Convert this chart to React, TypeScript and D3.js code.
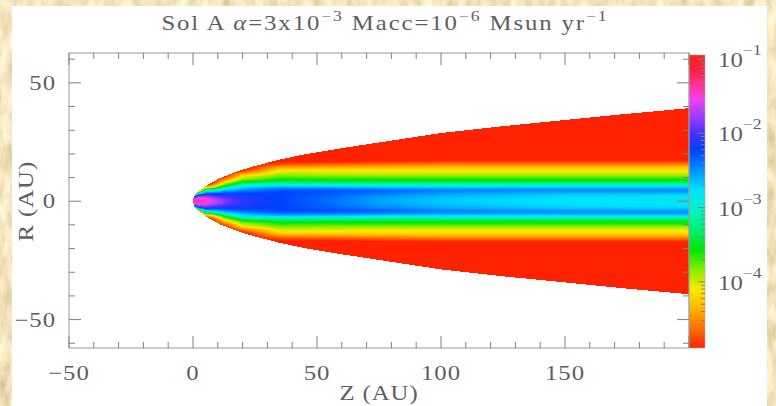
import React, { useMemo } from "react";
import * as d3 from "d3";

const W = 776;
const H = 406;

// Plot frame and colour bar placement
const FRAME = { left: 69, right: 689, top: 53, bottom: 348 };
const CBAR = { left: 689, right: 705, top: 55, bottom: 348 };

// Axis ranges (AU) and colour-bar range (log10)
const zDomain = [-50, 200];
const rDomain = [-62, 62.6];
const logDomain = [-4.89, -0.946];

// Tick values
const xTickLabels = [-50, 0, 50, 100, 150];
const xMajorTicks = [-50, 0, 50, 100, 150, 200];
const xMinorTicks = [-40, -30, -20, -10, 10, 20, 30, 40, 60, 70, 80, 90, 110, 120, 130, 140, 160, 170, 180, 190];
const yTickLabels = [-50, 0, 50];
const yMinorTicks = [-60, -40, -30, -20, -10, 10, 20, 30, 40, 60];
const cbarExponents = [-1, -2, -3, -4];

// Outer boundary of the flow: |R| (AU) as a function of Z (AU)
const edgeZ = [0, 0.25, 1, 2, 4, 7, 11, 17, 24, 35, 45, 60, 75, 100, 125, 150, 175, 200];
const edgeR = [0, 1.6, 3, 4.1, 5.6, 7.6, 9.8, 12.3, 14.6, 17.6, 19.8, 22.4, 24.8, 28.8, 31.7, 34.3, 36.9, 39.3];

// log10 of the plotted quantity: one row per Z, one column per |R|
const profileZ = [0, 2, 5, 8, 13, 20, 35, 55, 75, 100, 150, 200];
const profileR = [0, 1, 2, 3, 4, 5, 6, 7, 8, 9, 10, 11, 12, 13, 14, 15, 16, 17, 18];
const logField = [
  [-1.3, -1.6, -2.5, -3.6, -4.6, -5, -5, -5, -5, -5, -5, -5, -5, -5, -5, -5, -5, -5, -5],
  [-1.35, -1.45, -1.8, -2.6, -4.2, -5, -5, -5, -5, -5, -5, -5, -5, -5, -5, -5, -5, -5, -5],
  [-1.45, -1.52, -1.75, -2.15, -2.75, -3.5, -4.4, -5, -5, -5, -5, -5, -5, -5, -5, -5, -5, -5, -5],
  [-1.6, -1.68, -1.9, -2.2, -2.65, -3.3, -4.05, -4.6, -4.9, -5, -5, -5, -5, -5, -5, -5, -5, -5, -5],
  [-1.85, -1.9, -2.05, -2.2, -2.45, -2.78, -3.3, -3.75, -4.1, -4.45, -4.75, -4.95, -5, -5, -5, -5, -5, -5, -5],
  [-2.1, -2.11, -2.15, -2.2, -2.33, -2.55, -2.75, -3.1, -3.5, -3.8, -4.0, -4.2, -4.6, -4.85, -5, -5, -5, -5, -5],
  [-2.22, -2.22, -2.22, -2.22, -2.24, -2.35, -2.6, -2.95, -3.3, -3.56, -3.7, -3.85, -4.0, -4.1, -4.35, -4.6, -4.8, -4.95, -5],
  [-2.38, -2.37, -2.35, -2.31, -2.27, -2.35, -2.65, -3.0, -3.35, -3.56, -3.72, -3.88, -4.02, -4.12, -4.3, -4.55, -4.78, -4.95, -5],
  [-2.55, -2.54, -2.5, -2.43, -2.33, -2.4, -2.72, -3.05, -3.38, -3.56, -3.72, -3.9, -4.05, -4.13, -4.28, -4.5, -4.72, -4.9, -5],
  [-2.68, -2.67, -2.63, -2.56, -2.45, -2.47, -2.74, -3.05, -3.4, -3.56, -3.72, -3.9, -4.05, -4.12, -4.25, -4.45, -4.65, -4.85, -5],
  [-2.78, -2.78, -2.74, -2.67, -2.52, -2.5, -2.73, -3.05, -3.4, -3.56, -3.72, -3.9, -4.05, -4.12, -4.25, -4.45, -4.65, -4.85, -5],
  [-2.82, -2.82, -2.78, -2.7, -2.53, -2.5, -2.72, -3.05, -3.4, -3.56, -3.72, -3.9, -4.05, -4.12, -4.25, -4.45, -4.65, -4.85, -5],
];

// Colour table (log10 value -> colour), a full hue cycle from red to red
const colorLog = [-4.89, -4.65, -4.38, -4.11, -3.84, -3.57, -3.3, -3.03, -2.76, -2.49, -2.22, -2.0, -1.78, -1.55, -1.33, -1.15, -0.946];
const colorHex = ["#ff2200", "#ff6a00", "#ffae00", "#ffe800", "#88ee00", "#00e600", "#00f070", "#00f5c8", "#00e0ff", "#0090ff", "#0040ff", "#4a30ff", "#9840ff", "#f040f0", "#ff3090", "#ff2040", "#ff2020"];

const FONT = "'Liberation Serif', 'Times New Roman', serif";
const INK = "#5e5e5e";
const TICK = "#808080";
const STRETCH = 1.18;

type LabelProps = {
  x: number;
  y: number;
  anchor?: "start" | "middle" | "end";
  size?: number;
  spacing?: number;
  rotate?: number;
  children: React.ReactNode;
};

// Text drawn with a slight horizontal stretch, in the wide plotting-package style
function Label({ x, y, anchor = "start", size = 21, spacing = 0, rotate = 0, children }: LabelProps) {
  return (
    <text
      transform={`translate(${x},${y}) rotate(${rotate}) scale(${STRETCH},1)`}
      textAnchor={anchor}
      fontFamily={FONT}
      fontSize={size}
      letterSpacing={spacing}
      fill={INK}
    >
      {children}
    </text>
  );
}

export default function App() {
  const x = d3.scaleLinear().domain(zDomain).range([FRAME.left, FRAME.right]);
  const y = d3.scaleLinear().domain(rDomain).range([FRAME.bottom, FRAME.top]);
  const cy = d3.scaleLinear().domain(logDomain).range([CBAR.bottom, CBAR.top]);
  const color = d3
    .scaleLinear<string>()
    .domain(colorLog)
    .range(colorHex)
    .interpolate(d3.interpolateRgb)
    .clamp(true);

  const diskImage = useMemo(() => {
    const w = FRAME.right - FRAME.left;
    const h = FRAME.bottom - FRAME.top;
    const canvas = document.createElement("canvas");
    canvas.width = w;
    canvas.height = h;
    const ctx = canvas.getContext("2d");
    if (!ctx) return "";
    const img = ctx.createImageData(w, h);
    const edge = d3.scaleLinear().domain(edgeZ).range(edgeR).clamp(true);
    const rowAt = d3.scaleLinear().domain(profileZ).range(d3.range(profileZ.length)).clamp(true);
    const colAt = d3.scaleLinear().domain(profileR).range(d3.range(profileR.length)).clamp(true);
    // colour lookup table
    const N = 1024;
    const lut = d3.range(N).map((k) => {
      const v = logDomain[0] + ((logDomain[1] - logDomain[0]) * k) / (N - 1);
      return d3.rgb(color(v));
    });
    for (let j = 0; j < h; j++) {
      const r = Math.abs(y.invert(FRAME.top + j + 0.5));
      const fc = colAt(r);
      const c0 = Math.min(Math.floor(fc), profileR.length - 2);
      const tc = fc - c0;
      for (let i = 0; i < w; i++) {
        const z = x.invert(FRAME.left + i + 0.5);
        if (z < 0 || r > edge(z)) continue;
        const fr = rowAt(z);
        const r0 = Math.min(Math.floor(fr), profileZ.length - 2);
        const tr = fr - r0;
        const a = logField[r0][c0] * (1 - tc) + logField[r0][c0 + 1] * tc;
        const b = logField[r0 + 1][c0] * (1 - tc) + logField[r0 + 1][c0 + 1] * tc;
        const v = a * (1 - tr) + b * tr;
        let k = Math.round(((v - logDomain[0]) / (logDomain[1] - logDomain[0])) * (N - 1));
        k = Math.max(0, Math.min(N - 1, k));
        const col = lut[k];
        const p = (j * w + i) * 4;
        img.data[p] = col.r;
        img.data[p + 1] = col.g;
        img.data[p + 2] = col.b;
        img.data[p + 3] = 255;
      }
    }
    ctx.putImageData(img, 0, 0);
    return canvas.toDataURL();
  }, []);

  const cbarRows = d3.range(CBAR.top, CBAR.bottom, 1);
  const cbarMinor: number[] = [];
  for (let d = -5; d <= -1; d++) {
    for (let m = 2; m <= 9; m++) {
      const v = d + Math.log10(m);
      if (v > logDomain[0] && v < logDomain[1]) cbarMinor.push(v);
    }
  }

  const minus = (t: number) => (t < 0 ? `−${-t}` : `${t}`);

  return (
    <svg
      width={W}
      height={H}
      viewBox={`0 0 ${W} ${H}`}
      style={{ position: "absolute", left: 0, top: 0, display: "block" }}
    >
      <defs>
        <filter id="paper" x="0" y="0" width="100%" height="100%">
          <feTurbulence type="fractalNoise" baseFrequency="0.09 0.035" numOctaves={3} seed={7} result="n" />
          <feColorMatrix
            in="n"
            type="matrix"
            values="0.6 0 0 0 0.6  0.6 0 0 0 0.48  0.6 0 0 0 0.22  0 0 0 0 1"
          />
        </filter>
      </defs>
      <rect x={0} y={0} width={W} height={H} fill="#e6c98e" />
      <rect x={0} y={0} width={W} height={H} filter="url(#paper)" />
      <rect x={12} y={6} width={755} height={H - 6} fill="#ffffff" />

      {/* title */}
      <Label x={385} y={30} anchor="middle" spacing={1.6}>
        <tspan>Sol A </tspan>
        <tspan fontStyle="italic">α</tspan>
        <tspan>=3x10</tspan>
        <tspan dy={-9} fontSize={15}>−3</tspan>
        <tspan dy={9}> Macc=10</tspan>
        <tspan dy={-9} fontSize={15}>−6</tspan>
        <tspan dy={9}> Msun yr</tspan>
        <tspan dy={-9} fontSize={15}>−1</tspan>
      </Label>

      {/* flow map */}
      {diskImage && (
        <image
          href={diskImage}
          x={FRAME.left}
          y={FRAME.top}
          width={FRAME.right - FRAME.left}
          height={FRAME.bottom - FRAME.top}
          preserveAspectRatio="none"
        />
      )}

      {/* colour bar */}
      <g shapeRendering="crispEdges">
        {cbarRows.map((py) => (
          <rect key={py} x={CBAR.left} y={py} width={CBAR.right - CBAR.left} height={1} fill={color(cy.invert(py + 0.5))} />
        ))}
      </g>
      <rect
        x={CBAR.left}
        y={CBAR.top}
        width={CBAR.right - CBAR.left}
        height={CBAR.bottom - CBAR.top}
        fill="none"
        stroke="#aaa"
        strokeWidth={0.6}
      />
      <g stroke={TICK} strokeWidth={1}>
        {cbarExponents.map((e) => (
          <line key={e} x1={CBAR.right} x2={CBAR.right - 7} y1={cy(e)} y2={cy(e)} />
        ))}
        {cbarMinor.map((v) => (
          <line key={v} x1={CBAR.right} x2={CBAR.right - 4} y1={cy(v)} y2={cy(v)} />
        ))}
      </g>
      {cbarExponents.map((e) => (
        <Label key={e} x={718} y={cy(e) + 8}>
          <tspan>10</tspan>
          <tspan dy={-12} fontSize={15}>{minus(e)}</tspan>
        </Label>
      ))}

      {/* frame and ticks */}
      <rect
        x={FRAME.left}
        y={FRAME.top}
        width={FRAME.right - FRAME.left}
        height={FRAME.bottom - FRAME.top}
        fill="none"
        stroke="#999"
        strokeWidth={1}
      />
      <g stroke={TICK} strokeWidth={1}>
        {xMajorTicks.map((t) => (
          <g key={`xm${t}`}>
            <line x1={x(t)} x2={x(t)} y1={FRAME.bottom} y2={FRAME.bottom - 12} />
            <line x1={x(t)} x2={x(t)} y1={FRAME.top} y2={FRAME.top + 12} />
          </g>
        ))}
        {xMinorTicks.map((t) => (
          <g key={`xn${t}`}>
            <line x1={x(t)} x2={x(t)} y1={FRAME.bottom} y2={FRAME.bottom - 6} />
            <line x1={x(t)} x2={x(t)} y1={FRAME.top} y2={FRAME.top + 6} />
          </g>
        ))}
        {yTickLabels.map((t) => (
          <g key={`ym${t}`}>
            <line x1={FRAME.left} x2={FRAME.left + 12} y1={y(t)} y2={y(t)} />
            <line x1={FRAME.right} x2={FRAME.right - 12} y1={y(t)} y2={y(t)} />
          </g>
        ))}
        {yMinorTicks.map((t) => (
          <g key={`yn${t}`}>
            <line x1={FRAME.left} x2={FRAME.left + 6} y1={y(t)} y2={y(t)} />
            <line x1={FRAME.right} x2={FRAME.right - 6} y1={y(t)} y2={y(t)} />
          </g>
        ))}
      </g>

      {/* tick labels */}
      {xTickLabels.map((t) => (
        <Label key={`xl${t}`} x={x(t)} y={380} anchor="middle" spacing={0.8}>
          {minus(t)}
        </Label>
      ))}
      {yTickLabels.map((t) => (
        <Label key={`yl${t}`} x={56} y={y(t) + 7} anchor="end" spacing={0.8}>
          {minus(t)}
        </Label>
      ))}

      {/* axis titles */}
      <Label x={(FRAME.left + FRAME.right) / 2} y={400} anchor="middle" spacing={0.8}>
        Z (AU)
      </Label>
      <Label x={33} y={y(0)} anchor="middle" rotate={-90} spacing={0.8}>
        R (AU)
      </Label>
    </svg>
  );
}
